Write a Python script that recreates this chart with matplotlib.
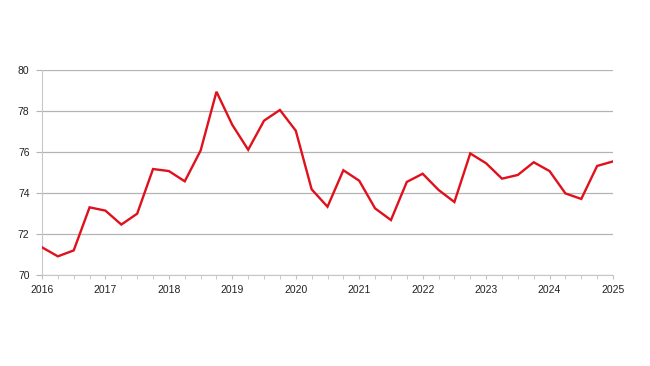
import matplotlib
matplotlib.use("Agg")
import matplotlib.pyplot as plt
import numpy as np

start_year = 2016
values = [71.35, 70.91, 71.2, 73.3,
          73.14, 72.46, 72.99, 75.17,
          75.07, 74.57, 76.07, 78.94,
          77.32, 76.11, 77.53, 78.05,
          77.04, 74.18, 73.33, 75.11,
          74.6, 73.25, 72.68, 74.54,
          74.94, 74.15, 73.56, 75.93,
          75.45, 74.7, 74.88, 75.5,
          75.07, 73.98, 73.71, 75.32,
          75.54]
x = [start_year + i / 4 for i in range(len(values))]
year_ticks = list(range(2016, 2026))
y_ticks = [70, 72, 74, 76, 78, 80]

plt.rcParams['font.family'] = ['Liberation Sans', 'DejaVu Sans']
fig = plt.figure(figsize=(6.5, 3.66), dpi=100)
ax = fig.add_axes([42/650, 1-275/366, (613-42)/650, (275-70)/366])

ax.plot(x, values, color='#e0101c', lw=1.7, solid_joinstyle='miter', zorder=3)
ax.set_xlim(2016, 2025)
ax.set_ylim(70, 80)
ax.set_xticks(year_ticks)
ax.set_xticks([start_year + i / 4 for i in range(37)], minor=True)
ax.set_yticks(y_ticks)
ax.grid(axis='y', color='#b4b4b4', lw=0.9)
ax.set_axisbelow(True)
for s in ['top', 'right']:
    ax.spines[s].set_visible(False)
ax.spines['left'].set_color('#c8c8c8')
ax.spines['bottom'].set_color('#c8c8c8')
ax.tick_params(axis='y', length=4, color='#b4b4b4', labelsize=7.5, pad=5, labelcolor='#222222')
ax.tick_params(axis='x', which='both', length=3, color='#c0c0c0', labelsize=7.5, pad=4, labelcolor='#222222')
ax.tick_params(axis='x', which='minor', length=3)
fig.savefig('out.png', dpi=100)
